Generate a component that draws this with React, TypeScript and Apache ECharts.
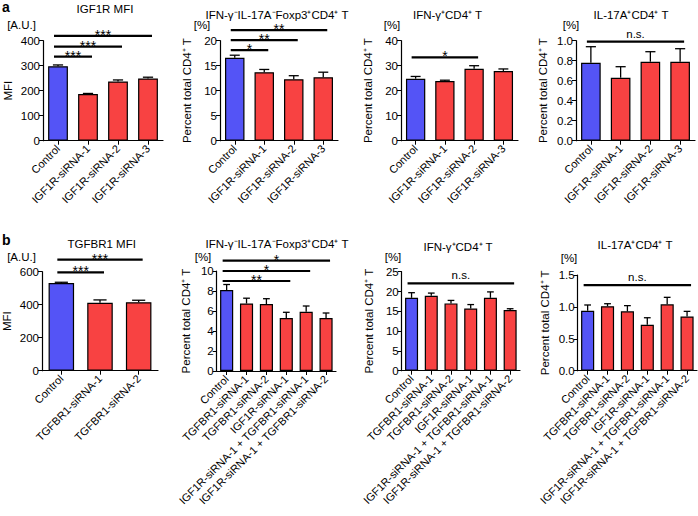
import React, { useEffect, useRef } from "react";
import * as echarts from "echarts";

// ---------- categories ----------
const A_CATS = ["Control", "IGF1R-siRNA-1", "IGF1R-siRNA-2", "IGF1R-siRNA-3"];
const B1_CATS = ["Control", "TGFBR1-siRNA-1", "TGFBR1-siRNA-2"];
const B_CATS = [
  "Control",
  "TGFBR1-siRNA-1",
  "TGFBR1-siRNA-2",
  "IGF1R-siRNA-1",
  "IGF1R-siRNA-1 + TGFBR1-siRNA-1",
  "IGF1R-siRNA-1 + TGFBR1-siRNA-2",
];

// ---------- panel a ----------
const A1_VALUES = [298, 187, 237, 249];
const A1_ERR = [5, 2, 6, 5];
const A1_SIG: [number, number, number, string][] = [
  [0, 1, 336, "***"],
  [0, 2, 376, "***"],
  [0, 3, 419, "***"],
];
const A2_VALUES = [16.6, 13.7, 12.3, 12.7];
const A2_ERR = [0.5, 0.55, 0.7, 1.0];
const A2_SIG: [number, number, number, string][] = [
  [0, 1, 18.1, "*"],
  [0, 2, 20.1, "**"],
  [0, 3, 22.1, "**"],
];
const A3_VALUES = [24.8, 23.9, 28.8, 27.9];
const A3_ERR = [0.9, 0.3, 1.2, 0.8];
const A3_SIG: [number, number, number, string][] = [[0, 2, 33.3, "*"]];
const A4_VALUES = [0.78, 0.63, 0.79, 0.79];
const A4_ERR = [0.16, 0.11, 0.1, 0.13];
const A4_SIG: [number, number, number, string][] = [[0, 3, 0.99, "n.s."]];

// ---------- panel b ----------
const B1_VALUES = [531, 412, 415];
const B1_ERR = [5, 17, 12];
const B1_SIG: [number, number, number, string][] = [
  [0, 1, 596, "***"],
  [0, 2, 673, "***"],
];
const B2_VALUES = [8.1, 6.75, 6.7, 5.3, 5.93, 5.3];
const B2_ERR = [0.55, 0.53, 0.53, 0.57, 0.57, 0.5];
const B2_SIG: [number, number, number, string][] = [
  [0, 3, 9.0, "**"],
  [0, 4, 10.0, "*"],
  [0, 5, 11.03, "*"],
];
const B3_VALUES = [18.4, 18.9, 17.0, 15.7, 18.4, 15.3];
const B3_ERR = [1.3, 0.7, 0.75, 1.0, 1.5, 0.35];
const B3_SIG: [number, number, number, string][] = [[0, 5, 22.05, "n.s."]];
const B4_VALUES = [0.94, 1.01, 0.93, 0.72, 1.04, 0.85];
const B4_ERR = [0.09, 0.04, 0.09, 0.11, 0.11, 0.08];
const B4_SIG: [number, number, number, string][] = [[0, 5, 1.34, "n.s."]];

// ---------- axis ranges ----------
const A1_Y = [0, 400, 100];
const A2_Y = [0, 20, 5];
const A3_Y = [0, 40, 10];
const A4_Y = [0, 1, 0.2];
const B1_Y = [0, 600, 200];
const B2_Y = [0, 10, 2];
const B3_Y = [0, 25, 5];
const B4_Y = [0, 1.5, 0.5];

const TITLE_MFI_A = "IGF1R MFI";
const TITLE_MFI_B = "TGFBR1 MFI";
const TITLE_TREG = "IFN-γ⁻IL-17A⁻Foxp3⁺CD4⁺ T";
const TITLE_IFN = "IFN-γ⁺CD4⁺ T";
const TITLE_IL17 = "IL-17A⁺CD4⁺ T";
const Y_MFI = "MFI";
const Y_PCT = "Percent total CD4⁺ T";

const BLUE = "#5454F6";
const RED = "#F84242";
const FONT = "Liberation Sans, Arial, Helvetica, sans-serif";

type Panel = {
  cats: string[];
  values: number[];
  err: number[];
  sig: [number, number, number, string][];
  y: number[];
  yName: string;
  decimals: number;
  title: string;
  unit: string;
  left: number;
  top: number;
  bottom: number;
  right: number;
  nameGap: number;
  titleX: number;
  titleY: number;
  unitX: number;
  unitY: number;
};

const PANELS: Panel[] = [
  { cats: A_CATS, values: A1_VALUES, err: A1_ERR, sig: A1_SIG, y: A1_Y, yName: Y_MFI, decimals: 0, title: TITLE_MFI_A, unit: "[A.U.]",
    left: 43, top: 40.7, bottom: 140.7, right: 163, nameGap: 29, titleX: 105, titleY: 9, unitX: 21.5, unitY: 25 },
  { cats: A_CATS, values: A2_VALUES, err: A2_ERR, sig: A2_SIG, y: A2_Y, yName: Y_PCT, decimals: 0, title: TITLE_TREG, unit: "[%]",
    left: 220, top: 40.7, bottom: 140.7, right: 338, nameGap: 27, titleX: 277, titleY: 15, unitX: 202, unitY: 25 },
  { cats: A_CATS, values: A3_VALUES, err: A3_ERR, sig: A3_SIG, y: A3_Y, yName: Y_PCT, decimals: 0, title: TITLE_IFN, unit: "[%]",
    left: 401, top: 40.7, bottom: 140.7, right: 518, nameGap: 27, titleX: 447.5, titleY: 15, unitX: 392, unitY: 25 },
  { cats: A_CATS, values: A4_VALUES, err: A4_ERR, sig: A4_SIG, y: A4_Y, yName: Y_PCT, decimals: 1, title: TITLE_IL17, unit: "[%]",
    left: 576, top: 40.7, bottom: 140.7, right: 695, nameGap: 27, titleX: 631, titleY: 15, unitX: 571, unitY: 25 },
  { cats: B1_CATS, values: B1_VALUES, err: B1_ERR, sig: B1_SIG, y: B1_Y, yName: Y_MFI, decimals: 0, title: TITLE_MFI_B, unit: "[A.U.]",
    left: 42, top: 271.7, bottom: 370.7, right: 158, nameGap: 29, titleX: 101.7, titleY: 244, unitX: 21.5, unitY: 257 },
  { cats: B_CATS, values: B2_VALUES, err: B2_ERR, sig: B2_SIG, y: B2_Y, yName: Y_PCT, decimals: 0, title: TITLE_TREG, unit: "[%]",
    left: 216.7, top: 271, bottom: 371, right: 336, nameGap: 25, titleX: 277, titleY: 244, unitX: 203, unitY: 257 },
  { cats: B_CATS, values: B3_VALUES, err: B3_ERR, sig: B3_SIG, y: B3_Y, yName: Y_PCT, decimals: 0, title: TITLE_IFN, unit: "[%]",
    left: 401.7, top: 271.7, bottom: 370.7, right: 520, nameGap: 27, titleX: 458, titleY: 246.5, unitX: 393, unitY: 257 },
  { cats: B_CATS, values: B4_VALUES, err: B4_ERR, sig: B4_SIG, y: B4_Y, yName: Y_PCT, decimals: 1, title: TITLE_IL17, unit: "[%]",
    left: 577.7, top: 275, bottom: 370.7, right: 697, nameGap: 26.5, titleX: 635, titleY: 245, unitX: 569, unitY: 258 },
];

function buildOption() {
  const grid: any[] = [];
  const xAxis: any[] = [];
  const yAxis: any[] = [];
  const series: any[] = [];
  const graphic: any[] = [];

  PANELS.forEach((p, k) => {
    grid.push({
      left: p.left,
      top: p.top,
      width: p.right - p.left,
      height: p.bottom - p.top,
      containLabel: false,
      outerBoundsMode: "none",
    });
    xAxis.push({
      type: "category",
      gridIndex: k,
      data: p.cats,
      boundaryGap: true,
      axisLine: { show: true, lineStyle: { color: "#000", width: 1.2 } },
      axisTick: { show: true, alignWithLabel: true, length: 4, lineStyle: { color: "#000", width: 1 } },
      axisLabel: { interval: 0, rotate: 45, margin: 6, color: "#000", fontSize: 11, fontFamily: FONT },
      splitLine: { show: false },
    });
    yAxis.push({
      type: "value",
      gridIndex: k,
      min: p.y[0],
      max: p.y[1],
      interval: p.y[2],
      name: p.yName,
      nameLocation: "middle",
      nameGap: p.nameGap,
      nameMoveOverlap: false,
      nameTextStyle: { color: "#000", fontSize: 11.5, fontFamily: FONT },
      axisLine: { show: true, lineStyle: { color: "#000", width: 1.2 } },
      axisTick: { show: true, length: 4, lineStyle: { color: "#000", width: 1 } },
      axisLabel: {
        color: "#000",
        fontSize: 11.5,
        margin: 3,
        fontFamily: FONT,
        formatter: (v: number) => v.toFixed(p.decimals),
      },
      splitLine: { show: false },
    });
    series.push({
      type: "bar",
      xAxisIndex: k,
      yAxisIndex: k,
      data: p.values,
      barCategoryGap: "34%",
      itemStyle: {
        color: (params: any) => (params.dataIndex === 0 ? BLUE : RED),
        borderColor: "#000",
        borderWidth: 1.2,
      },
      z: 2,
    });
    series.push({
      type: "custom",
      xAxisIndex: k,
      yAxisIndex: k,
      data: p.values.map((v, i) => [i, v, p.err[i]]),
      encode: { x: 0, y: 1 },
      z: 3,
      renderItem: (params: any, api: any) => {
        const i = api.value(0);
        const v = api.value(1);
        const e = api.value(2);
        const p0 = api.coord([i, v]);
        const p1 = api.coord([i, v + e]);
        const bw = api.size([1, 0])[0];
        const hw = bw * 0.17;
        const st = { stroke: "#000", lineWidth: 1.3 };
        return {
          type: "group",
          children: [
            { type: "line", shape: { x1: p0[0], y1: p0[1], x2: p1[0], y2: p1[1] }, style: st },
            { type: "line", shape: { x1: p1[0] - hw, y1: p1[1], x2: p1[0] + hw, y2: p1[1] }, style: st },
          ],
        };
      },
    });
    series.push({
      type: "custom",
      xAxisIndex: k,
      yAxisIndex: k,
      clip: false,
      data: p.sig.map((s) => [s[0], s[2], s[1]]),
      encode: { x: 0, y: 1 },
      z: 4,
      renderItem: (params: any, api: any) => {
        const s = p.sig[params.dataIndex];
        const a = api.coord([s[0], s[2]]);
        const b = api.coord([s[1], s[2]]);
        const x1 = a[0] - 4;
        const x2 = b[0] + 4;
        const isStar = s[3].startsWith("*");
        return {
          type: "group",
          children: [
            { type: "line", shape: { x1, y1: a[1], x2, y2: a[1] }, style: { stroke: "#000", lineWidth: 2.2 } },
            {
              type: "text",
              x: (x1 + x2) / 2,
              y: isStar ? a[1] + 6 : a[1] - 2,
              style: {
                text: s[3],
                align: "center",
                verticalAlign: "bottom",
                fontSize: isStar ? 14 : 11.5,
                fontFamily: FONT,
                fill: "#000",
                stroke: "none",
              },
            },
          ],
        };
      },
    });

    graphic.push({
      type: "text",
      x: p.titleX,
      y: p.titleY,
      style: { text: p.title, align: "center", verticalAlign: "middle", fontSize: 11.5, fontFamily: FONT, fill: "#000" },
    });
    graphic.push({
      type: "text",
      x: p.unitX,
      y: p.unitY,
      style: { text: p.unit, align: "center", verticalAlign: "middle", fontSize: 11.5, fontFamily: FONT, fill: "#000" },
    });
  });

  graphic.push({
    type: "text",
    x: 2,
    y: 0,
    style: { text: "a", align: "left", verticalAlign: "top", fontSize: 14, fontWeight: "bold", fontFamily: FONT, fill: "#000" },
  });
  graphic.push({
    type: "text",
    x: 2,
    y: 233,
    style: { text: "b", align: "left", verticalAlign: "top", fontSize: 14, fontWeight: "bold", fontFamily: FONT, fill: "#000" },
  });

  return {
    animation: false,
    backgroundColor: "#fff",
    textStyle: { fontFamily: FONT },
    grid,
    xAxis,
    yAxis,
    series,
    graphic,
  };
}

export default function App() {
  const ref = useRef<HTMLDivElement>(null);
  useEffect(() => {
    if (!ref.current) return;
    const chart = echarts.init(ref.current, null, { renderer: "svg" });
    chart.setOption(buildOption() as any);
    return () => chart.dispose();
  }, []);
  return (
    <div
      ref={ref}
      style={{ position: "fixed", left: 0, top: 0, width: 698, height: 516, background: "#fff" }}
    />
  );
}
